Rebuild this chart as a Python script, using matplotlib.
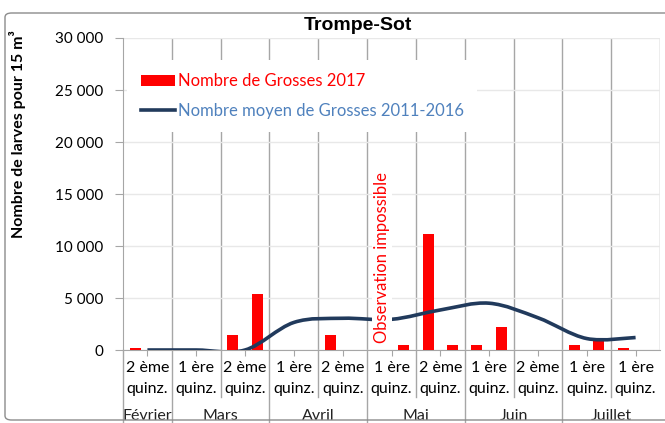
import numpy as np
import matplotlib
matplotlib.use("Agg")
import matplotlib.pyplot as plt
from matplotlib.path import Path
from matplotlib.patches import PathPatch, Patch, FancyBboxPatch
from matplotlib.lines import Line2D
import matplotlib.transforms as mtransforms

plt.rcParams["font.family"] = ["Lato", "DejaVu Sans"]

# 2017 counts, one value per half-quinzaine slot (22 slots, Feb 2 -> Jul 2)
grosses_2017 = [220, 0, 0, 0, 1440, 5350, 0, 0, 1440, 0, 0,
                450, 11120, 450, 450, 2240, 0, 0, 450, 900, 220, 0]
# 2011-2016 mean, one value per quinzaine
moyen_2011_2016 = [0, 0, 0, 2650, 3050, 2950, 3850, 4500, 3100, 1100, 1200]

quinz_labels = ["2 ème\nquinz.", "1 ère\nquinz.", "2 ème\nquinz.", "1 ère\nquinz.",
                "2 ème\nquinz.", "1 ère\nquinz.", "2 ème\nquinz.", "1 ère\nquinz.",
                "2 ème\nquinz.", "1 ère\nquinz.", "1 ère\nquinz."]
months = ["Février", "Mars", "Avril", "Mai", "Juin", "Juillet"]
month_quinz = [1, 2, 2, 2, 2, 2]  # number of quinzaines per month

red = "#FF0000"
navy = "#213A5C"
grid_grey = "#A6A6A6"


def smooth_path(xs, ys):
    # Excel-like smoothed line: cubic bezier through the points
    n = len(xs)
    verts = [(xs[0], ys[0])]
    codes = [Path.MOVETO]
    for i in range(n - 1):
        x0, y0 = xs[max(i - 1, 0)], ys[max(i - 1, 0)]
        x1, y1 = xs[i], ys[i]
        x2, y2 = xs[i + 1], ys[i + 1]
        x3, y3 = xs[min(i + 2, n - 1)], ys[min(i + 2, n - 1)]
        verts += [(x1 + (x2 - x0) / 6, y1 + (y2 - y0) / 6),
                  (x2 - (x3 - x1) / 6, y2 - (y3 - y1) / 6),
                  (x2, y2)]
        codes += [Path.CURVE4] * 3
    return Path(verts, codes)


fig = plt.figure(figsize=(6.65, 4.23), dpi=100)
ax = fig.add_axes([123 / 665, 73 / 423, 537 / 665, 312 / 423])

n_slots = len(grosses_2017)
slot_x = np.arange(n_slots) + 0.5
ax.bar(slot_x, grosses_2017, width=0.45, color=red, zorder=3)

quinz_x = np.arange(len(moyen_2011_2016)) * 2 + 1
ax.add_patch(PathPatch(smooth_path(quinz_x, moyen_2011_2016), fill=False,
                       edgecolor=navy, lw=2.6, zorder=4, capstyle="butt"))

ax.set_xlim(0, n_slots)
ax.set_ylim(0, 30000)

# y axis
yt = np.arange(0, 30001, 5000)
ax.set_yticks(yt)
ax.set_yticklabels([f"{v:,}".replace(",", " ") for v in yt], fontsize=11)
ax.tick_params(axis="y", length=6, color=grid_grey, pad=8)
ax.yaxis.grid(True, color="#E8E8E8", lw=1, zorder=0)

# x axis: quinzaine labels at odd slots, dividers at even slots
ax.set_xticks(quinz_x)
ax.set_xticklabels(quinz_labels, fontsize=11.5)
for t in ax.get_xticklabels():
    t.set_linespacing(1.6)
ax.tick_params(axis="x", length=4, color=grid_grey, pad=4)
ax.set_xticks(np.arange(2, n_slots + 1, 2), minor=True)
ax.tick_params(axis="x", which="minor", length=0)
ax.xaxis.grid(True, which="minor", color=grid_grey, lw=1, zorder=1)

for s in ["top", "right"]:
    ax.spines[s].set_visible(False)
for s in ["left", "bottom"]:
    ax.spines[s].set_color(grid_grey)

trans = mtransforms.blended_transform_factory(ax.transData, ax.transAxes)
month_edges = np.concatenate([[0], np.cumsum(month_quinz) * 2])
for xd in range(0, n_slots, 2):
    low = -0.25 if xd in month_edges else -0.151
    ax.plot([xd, xd], [0, low], transform=trans, color=grid_grey, lw=1,
            clip_on=False, zorder=1)
for i, m in enumerate(months):
    xc = (month_edges[i] + month_edges[i + 1]) / 2
    ax.text(xc, -0.213, m, transform=trans, ha="center",
            va="center", fontsize=11.5, color="#222222")

ax.text(10.63, 650, "Observation impossible", rotation=90, ha="center",
        va="bottom", color=red, fontsize=12, zorder=5,
        bbox=dict(facecolor="white", edgecolor="none", pad=1.5))

handles = [Patch(facecolor=red, edgecolor="none"),
           Line2D([], [], color=navy, lw=2.6)]
leg = ax.legend(handles, ["Nombre de Grosses 2017",
                          "Nombre moyen de Grosses 2011-2016"],
                loc="upper left", bbox_to_anchor=(0.008, 0.93),
                fontsize=12, frameon=True, fancybox=False, framealpha=1,
                borderpad=0.8, borderaxespad=0, handlelength=2.05,
                handleheight=0.68, handletextpad=0.2, labelspacing=0.8,
                labelcolor=[red, "#4F81BD"])
leg.get_frame().set_edgecolor("none")
leg.set_zorder(6)

fig.text(358 / 665, 1 - 26 / 423, "Trompe-Sot", ha="center", va="center",
         fontsize=14, fontweight="bold", family="Liberation Sans")
fig.text(18 / 665, 1 - 134 / 423, "Nombre de larves pour 15 m³",
         rotation=90, ha="center", va="center", fontsize=11.5,
         fontweight="bold")

fig.patches.append(FancyBboxPatch((5 / 665, 3 / 423), 670 / 665, 407 / 423,
                                  boxstyle="round,pad=0,rounding_size=0.01",
                                  transform=fig.transFigure, fill=False,
                                  edgecolor="#8C8C8C", lw=1))

fig.savefig("out.png", dpi=100, facecolor="white")
